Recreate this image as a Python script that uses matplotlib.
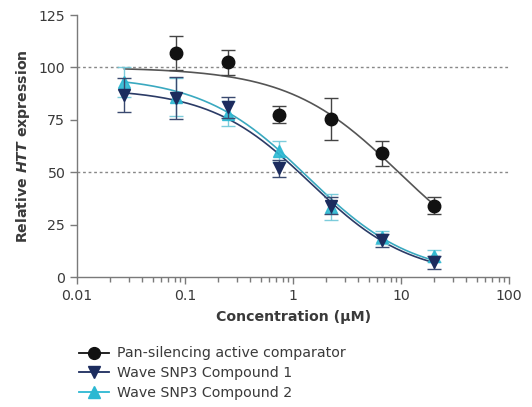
import numpy as np
import matplotlib.pyplot as plt
from matplotlib.lines import Line2D
from matplotlib.ticker import LogLocator, FixedLocator, NullFormatter

# concentrations (uM), 3-fold dilution series
conc = [0.0274, 0.0823, 0.247, 0.741, 2.22, 6.67, 20.0]

# pan-silencing comparator (no point at lowest conc)
comp_x = conc[1:]
comp_y = [107, 102.5, 77.5, 75.5, 59, 34]
comp_err = [8, 6, 4, 10, 6, 4]

# Wave SNP3 compound 1
c1_y = [87, 85.5, 81, 52, 34, 17.5, 7]
c1_err = [8, 10, 5, 4, 4, 3, 3]

# Wave SNP3 compound 2
c2_y = [93, 86, 78, 60, 33.5, 19, 10]
c2_err = [7, 9, 6, 5, 6, 3, 3]

# fitted 4PL curve parameters: top, bottom, IC50, hill
comp_fit = (100.0, 0.0, 9.5, 0.85)
c1_fit = (90.0, 0.0, 1.44, 0.94)
c2_fit = (96.0, 0.0, 1.35, 0.89)

labels = ["Pan-silencing active comparator",
          "Wave SNP3 Compound 1",
          "Wave SNP3 Compound 2"]

BLACK = "#111111"
NAVY = "#1c2c5e"
CYAN = "#2cb8d2"
GRID = "#888888"
AX = "#7a7a7a"
TXT = "#3a3a3a"
FS = 10.2


def logistic(x, top, bottom, ic50, hill):
    return bottom + (top - bottom) / (1 + (x / ic50) ** hill)


plt.rcParams['font.family'] = ['DejaVu Sans']
plt.rcParams['mathtext.fontset'] = 'dejavusans'

fig = plt.figure(figsize=(5.32, 4.07), dpi=100)
ax = fig.add_axes([0.145, 0.319, 0.812, 0.644])

ax.set_xscale("log")
ax.set_xlim(0.01, 100)
ax.set_ylim(0, 125)

for yv in [100, 50]:
    ax.axhline(yv, color=GRID, linestyle=(0, (2, 2)), linewidth=1.0, zorder=1)

xs = np.logspace(np.log10(conc[0]), np.log10(conc[-1]), 200)
ax.plot(xs, logistic(xs, *comp_fit), color="#555555", lw=1.2, zorder=2)
ax.plot(xs, logistic(xs, *c1_fit), color="#2b3b66", lw=1.2, zorder=2)
ax.plot(xs, logistic(xs, *c2_fit), color="#3aa9c0", lw=1.2, zorder=2)

ax.errorbar(comp_x, comp_y, yerr=comp_err, fmt="o", color=BLACK, ecolor="#444444",
            ms=9, capsize=5, elinewidth=1.0, capthick=1.0, zorder=4, clip_on=False)
ax.errorbar(conc, c1_y, yerr=c1_err, fmt="v", color=NAVY, ecolor="#3a4a70",
            ms=8.5, capsize=5, elinewidth=1.0, capthick=1.0, zorder=4, clip_on=False)
ax.errorbar(conc, c2_y, yerr=c2_err, fmt="^", color=CYAN, ecolor="#6fc7d8",
            ms=8.5, capsize=5, elinewidth=1.0, capthick=1.0, zorder=3, clip_on=False,
            alpha=0.9)

ax.spines["top"].set_visible(False)
ax.spines["right"].set_visible(False)
for s in ["left", "bottom"]:
    ax.spines[s].set_color(AX)
    ax.spines[s].set_linewidth(1.0)

ax.set_yticks([0, 25, 50, 75, 100, 125])
ax.xaxis.set_major_locator(FixedLocator([0.01, 0.1, 1, 10, 100]))
ax.set_xticklabels(["0.01", "0.1", "1", "10", "100"])
ax.xaxis.set_minor_locator(LogLocator(base=10, subs=np.arange(2, 10)))
ax.xaxis.set_minor_formatter(NullFormatter())
ax.tick_params(axis="both", which="major", length=5, width=1.0, color=AX,
               labelsize=FS, labelcolor=TXT)
ax.tick_params(axis="x", which="minor", length=3.5, width=1.0, color=AX)

ax.set_xlabel("Concentration (µM)", fontsize=FS, fontweight="bold", color=TXT, labelpad=5)
ax.set_ylabel(r"Relative $\mathbfit{HTT}$ expression", fontsize=FS, fontweight="bold",
              color=TXT, labelpad=5)

handles = [
    Line2D([], [], color=BLACK, marker="o", ms=8.5, lw=1.3),
    Line2D([], [], color=NAVY, marker="v", ms=8.5, lw=1.3),
    Line2D([], [], color=CYAN, marker="^", ms=8.5, lw=1.3),
]
fig.legend(handles, labels, loc="upper left", bbox_to_anchor=(0.125, 0.18),
           frameon=False, fontsize=FS, handlelength=2.1, handletextpad=0.55,
           labelspacing=0.4, labelcolor=TXT)

fig.savefig("out.png", dpi=100)
